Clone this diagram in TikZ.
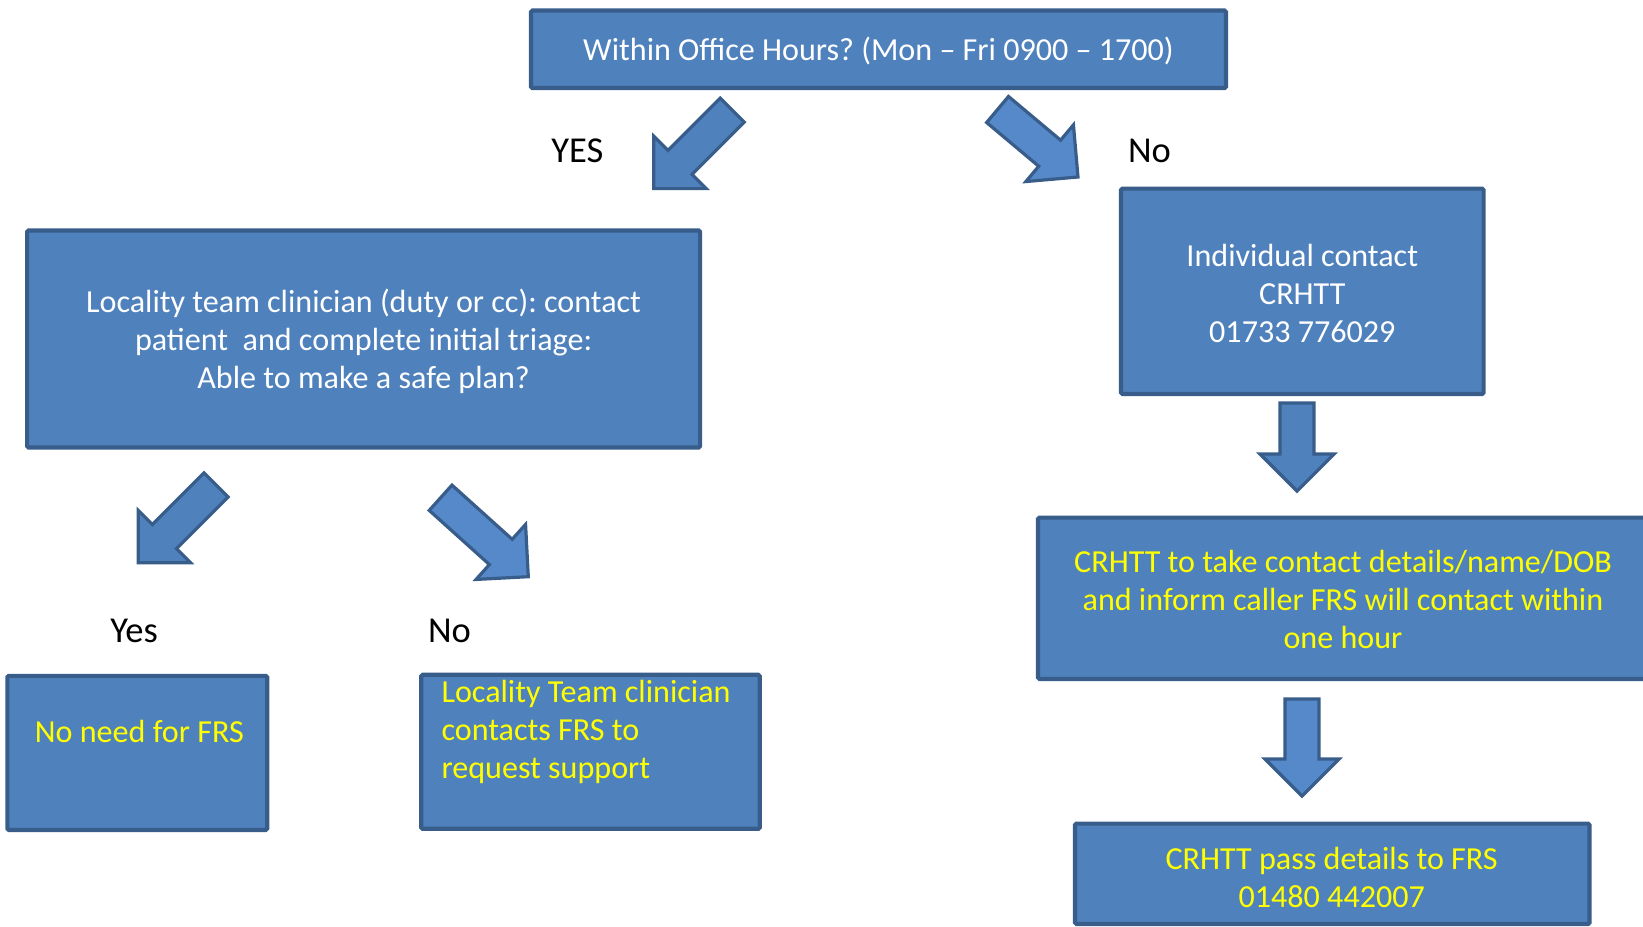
\documentclass[tikz,border=0pt]{standalone}
\usepackage{fontspec}
\setmainfont{Carlito}
\frenchspacing
\definecolor{boxblue}{HTML}{4F81BD}
\definecolor{edgeblue}{HTML}{385D8A}
\definecolor{paleblue}{HTML}{5589C9}
\definecolor{hiyellow}{HTML}{FFFF00}
\newcommand{\boxfont}{\fontsize{32.1}{38}\selectfont}
\newcommand{\answerfont}{\fontsize{36.5}{42}\selectfont}
\tikzset{
  box/.style={draw=edgeblue,fill=boxblue,line width=4.2pt,rounded corners=1.5pt,inner sep=0pt},
  whitetext/.style={text=white,font=\boxfont,align=center,yshift=-2pt},
  yellowtext/.style={text=hiyellow,font=\boxfont,align=center,yshift=-1pt},
  answer/.style={text=black,font=\answerfont},
  fatarrow/.style={draw=edgeblue,line width=3.2pt,line join=miter}
}
% block arrow: tip x, tip y, direction, length, fill
\newcommand{\blockarrow}[5]{%
  \begin{scope}[shift={(#1,#2)},rotate=#3]
    \draw[fatarrow,fill=#5] (0,0) -- (-37,37) -- (-37,17) -- (-#4,17) -- (-#4,-17) -- (-37,-17) -- (-37,-37) -- cycle;
  \end{scope}}
\begin{document}
\begin{tikzpicture}[x=1pt,y=-1pt]
  \useasboundingbox (0,0) rectangle (1643,926);
  \clip (0,0) rectangle (1643,926);

  % question
  \node[box,minimum width=695,minimum height=77.5] (hours) at (878.5,49.3) {};
  \node[whitetext] (hourstxt) at (hours) {Within Office Hours? (Mon -- Fri 0900 -- 1700)};
  \blockarrow{653.8}{188.6}{225}{111}{boxblue}
  \blockarrow{1078}{177}{320}{105}{paleblue}
  \node[answer] (yes) at (577.3,150.9) {YES};
  \node[answer] (no) at (1149.4,150.9) {No};

  % in hours
  \node[box,minimum width=673,minimum height=217] (locality) at (363.6,339) {};
  \node[whitetext] (localitytxt) at (locality) {Locality team clinician (duty or cc): contact\\ patient \ and complete initial triage:\\ Able to make a safe plan?};
  \blockarrow{138.3}{562.7}{225}{110}{boxblue}
  \blockarrow{528.3}{576.7}{318}{118}{paleblue}
  \node[answer] (yesplan) at (134.1,630.8) {Yes};
  \node[answer] (noplan) at (449.5,630.8) {No};
  \node[box,minimum width=259.9,minimum height=154.1] (noneed) at (137.3,752.9) {};
  \node[yellowtext] (noneedtxt) at (139.4,730.3) {No need for FRS};
  \node[box,minimum width=338.5,minimum height=154] (request) at (590.5,751.8) {};
  \node[yellowtext,align=left,anchor=west] (requesttxt) at (438,731) {Locality Team clinician\\ contacts FRS to\\ request support};

  % out of hours
  \node[box,minimum width=362.6,minimum height=205.4] (individual) at (1302.3,291.3) {};
  \node[whitetext] (individualtxt) at (individual) {Individual contact\\ CRHTT\\ 01733 776029};
  \blockarrow{1297}{491}{270}{88}{boxblue}
  \node[box,minimum width=610,minimum height=161.4] (details) at (1343,598.3) {};
  \node[yellowtext] (detailstxt) at (details) {CRHTT to take contact details/name/DOB\\ and inform caller FRS will contact within\\ one hour};
  \blockarrow{1302}{796}{270}{97}{paleblue}
  \node[box,minimum width=514.5,minimum height=100.4] (pass) at (1332.3,873.8) {};
  \node[yellowtext] (passtxt) at (1331.7,876.5) {CRHTT pass details to FRS\\ 01480 442007};
\end{tikzpicture}
\end{document}
